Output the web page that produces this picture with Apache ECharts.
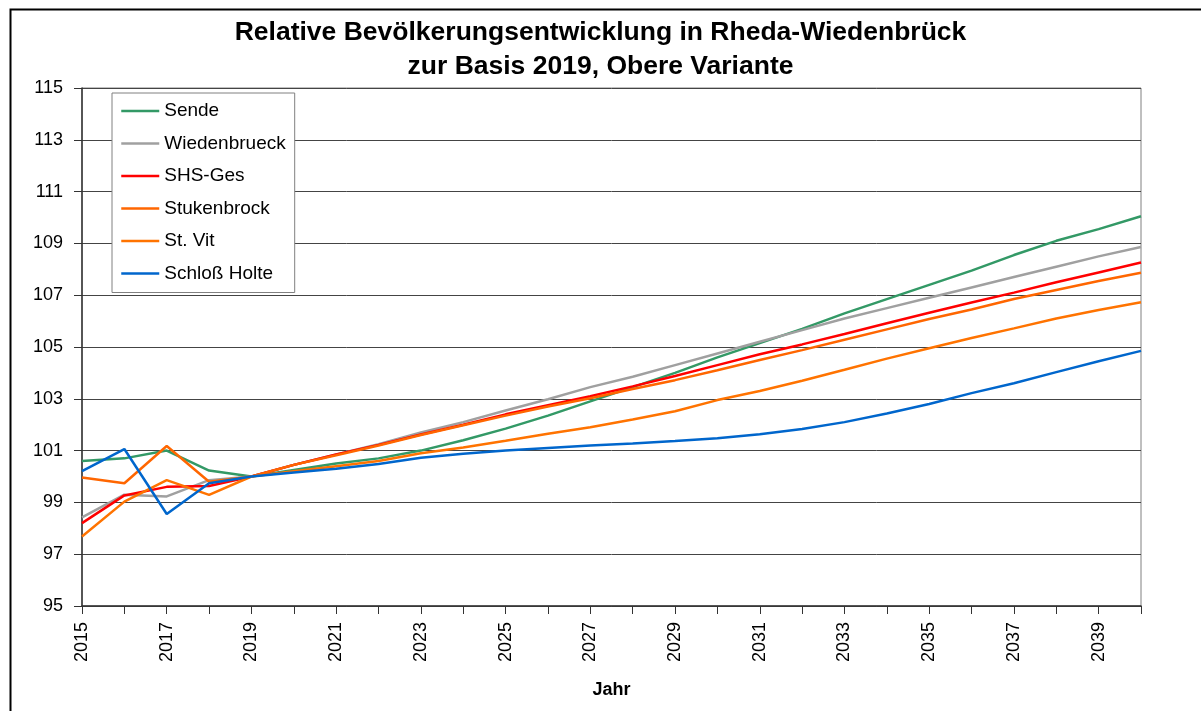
<!DOCTYPE html>
<html>
<head>
<meta charset="utf-8">
<title>Relative Bevölkerungsentwicklung in Rheda-Wiedenbrück</title>
<script src="https://cdn.jsdelivr.net/npm/echarts@6/dist/echarts.min.js"></script>
<style>
  html, body { margin: 0; padding: 0; background: #fff; }
  #chart-container { width: 1201px; height: 711px; }
</style>
</head>
<body>
<div id="chart-container"></div>
<script>
// years on the x axis
var years = [];
for (var y = 2015; y <= 2040; y++) years.push(String(y));

var yTicks = [95, 97, 99, 101, 103, 105, 107, 109, 111, 113, 115];

var sende = [100.6, 100.7, 101.0, 100.23, 100.0, 100.25, 100.5, 100.7, 101.0, 101.4, 101.85, 102.35, 102.9,
  103.45, 104.0, 104.6, 105.15, 105.7, 106.3, 106.85, 107.4, 107.95, 108.55, 109.1, 109.55, 110.05];
var wiedenbrueck = [98.42, 99.3, 99.23, 99.86, 100.0, 100.45, 100.85, 101.25, 101.7, 102.1, 102.55, 102.98, 103.45,
  103.85, 104.3, 104.75, 105.2, 105.65, 106.1, 106.5, 106.9, 107.3, 107.7, 108.1, 108.5, 108.86];
var shsGes = [98.2, 99.27, 99.6, 99.63, 100.0, 100.45, 100.85, 101.22, 101.62, 102.0, 102.4, 102.75, 103.1,
  103.48, 103.88, 104.3, 104.72, 105.1, 105.5, 105.92, 106.32, 106.72, 107.1, 107.5, 107.88, 108.26];
var stukenbrock = [99.96, 99.74, 101.18, 99.8, 100.0, 100.45, 100.82, 101.2, 101.6, 101.98, 102.35, 102.7, 103.02,
  103.38, 103.72, 104.1, 104.5, 104.88, 105.28, 105.68, 106.08, 106.45, 106.85, 107.2, 107.55, 107.87];
var stVit = [97.68, 99.03, 99.86, 99.29, 100.0, 100.2, 100.4, 100.6, 100.9, 101.12, 101.38, 101.65, 101.9,
  102.2, 102.52, 102.95, 103.3, 103.7, 104.12, 104.55, 104.95, 105.35, 105.72, 106.1, 106.43, 106.73];
var schlossHolte = [100.21, 101.06, 98.55, 99.74, 100.0, 100.15, 100.3, 100.48, 100.72, 100.88, 101.0, 101.1, 101.2,
  101.27, 101.37, 101.48, 101.63, 101.83, 102.1, 102.43, 102.8, 103.22, 103.6, 104.03, 104.45, 104.85];

var seriesNames = ['Sende', 'Wiedenbrueck', 'SHS-Ges', 'Stukenbrock', 'St. Vit', 'Schloß Holte'];
var seriesData = [sende, wiedenbrueck, shsGes, stukenbrock, stVit, schlossHolte];
var seriesColors = ['#339966', '#a0a0a0', '#ff0000', '#ff6600', '#ff7300', '#0066cc'];

var chartDom = document.getElementById('chart-container');
var myChart = echarts.init(chartDom, null, { renderer: 'canvas' });
var option;

var fontFam = '"Liberation Sans", Arial, sans-serif';

option = {
  backgroundColor: '#fff',
  animation: false,
  textStyle: { fontFamily: fontFam },
  title: {
    text: 'Relative Bevölkerungsentwicklung in Rheda-Wiedenbrück\nzur Basis 2019, Obere Variante',
    left: 'center',
    top: 11,
    textStyle: {
      fontFamily: fontFam,
      fontSize: 26.5,
      fontWeight: 'bold',
      lineHeight: 34,
      color: '#000'
    }
  },
  legend: {
    orient: 'vertical',
    left: 112,
    top: 93,
    padding: [8, 9, 9, 8],
    itemWidth: 38,
    itemHeight: 20,
    itemGap: 12.5,
    backgroundColor: '#fff',
    borderColor: '#808080',
    borderWidth: 1,
    itemStyle: { opacity: 0 },
    lineStyle: { width: 2.5 },
    textStyle: { fontFamily: fontFam, fontSize: 19, color: '#000', lineHeight: 20 },
    data: seriesNames
  },
  grid: {
    left: 82,
    top: 88,
    right: 60,
    bottom: 105,
    show: true,
    borderColor: '#808080',
    borderWidth: 1
  },
  xAxis: {
    type: 'category',
    boundaryGap: false,
    data: years,
    name: 'Jahr',
    nameLocation: 'middle',
    nameGap: 75,
    nameTextStyle: { fontFamily: fontFam, fontSize: 18, fontWeight: 'bold', color: '#000' },
    axisLine: { lineStyle: { color: '#333', width: 1.5 } },
    axisTick: { interval: 0, length: 8, lineStyle: { color: '#333' } },
    axisLabel: {
      interval: 1,
      rotate: 90,
      margin: 16,
      fontSize: 18,
      color: '#000',
      fontFamily: fontFam
    },
    splitLine: { show: false }
  },
  yAxis: {
    type: 'value',
    min: yTicks[0],
    max: yTicks[yTicks.length - 1],
    interval: 2,
    axisLine: { show: true, lineStyle: { color: '#333', width: 1.5 } },
    axisTick: { show: true, length: 8, lineStyle: { color: '#333' } },
    axisLabel: { margin: 19, fontSize: 18, color: '#000', fontFamily: fontFam },
    splitLine: { show: true, lineStyle: { color: '#444', width: 1 } }
  },
  graphic: [
    {
      type: 'rect',
      left: 8,
      top: 7,
      shape: { x: 0, y: 0, width: 1300, height: 800 },
      style: { fill: 'none', stroke: '#000', lineWidth: 2 },
      silent: true,
      z: -1
    }
  ],
  series: seriesNames.map(function (name, i) {
    return {
      name: name,
      type: 'line',
      data: seriesData[i],
      symbol: 'none',
      smooth: false,
      color: seriesColors[i],
      lineStyle: { width: 2.5, color: seriesColors[i] },
      z: 2 + i
    };
  })
};

option && myChart.setOption(option);
window.addEventListener('resize', myChart.resize);
</script>
</body>
</html>
